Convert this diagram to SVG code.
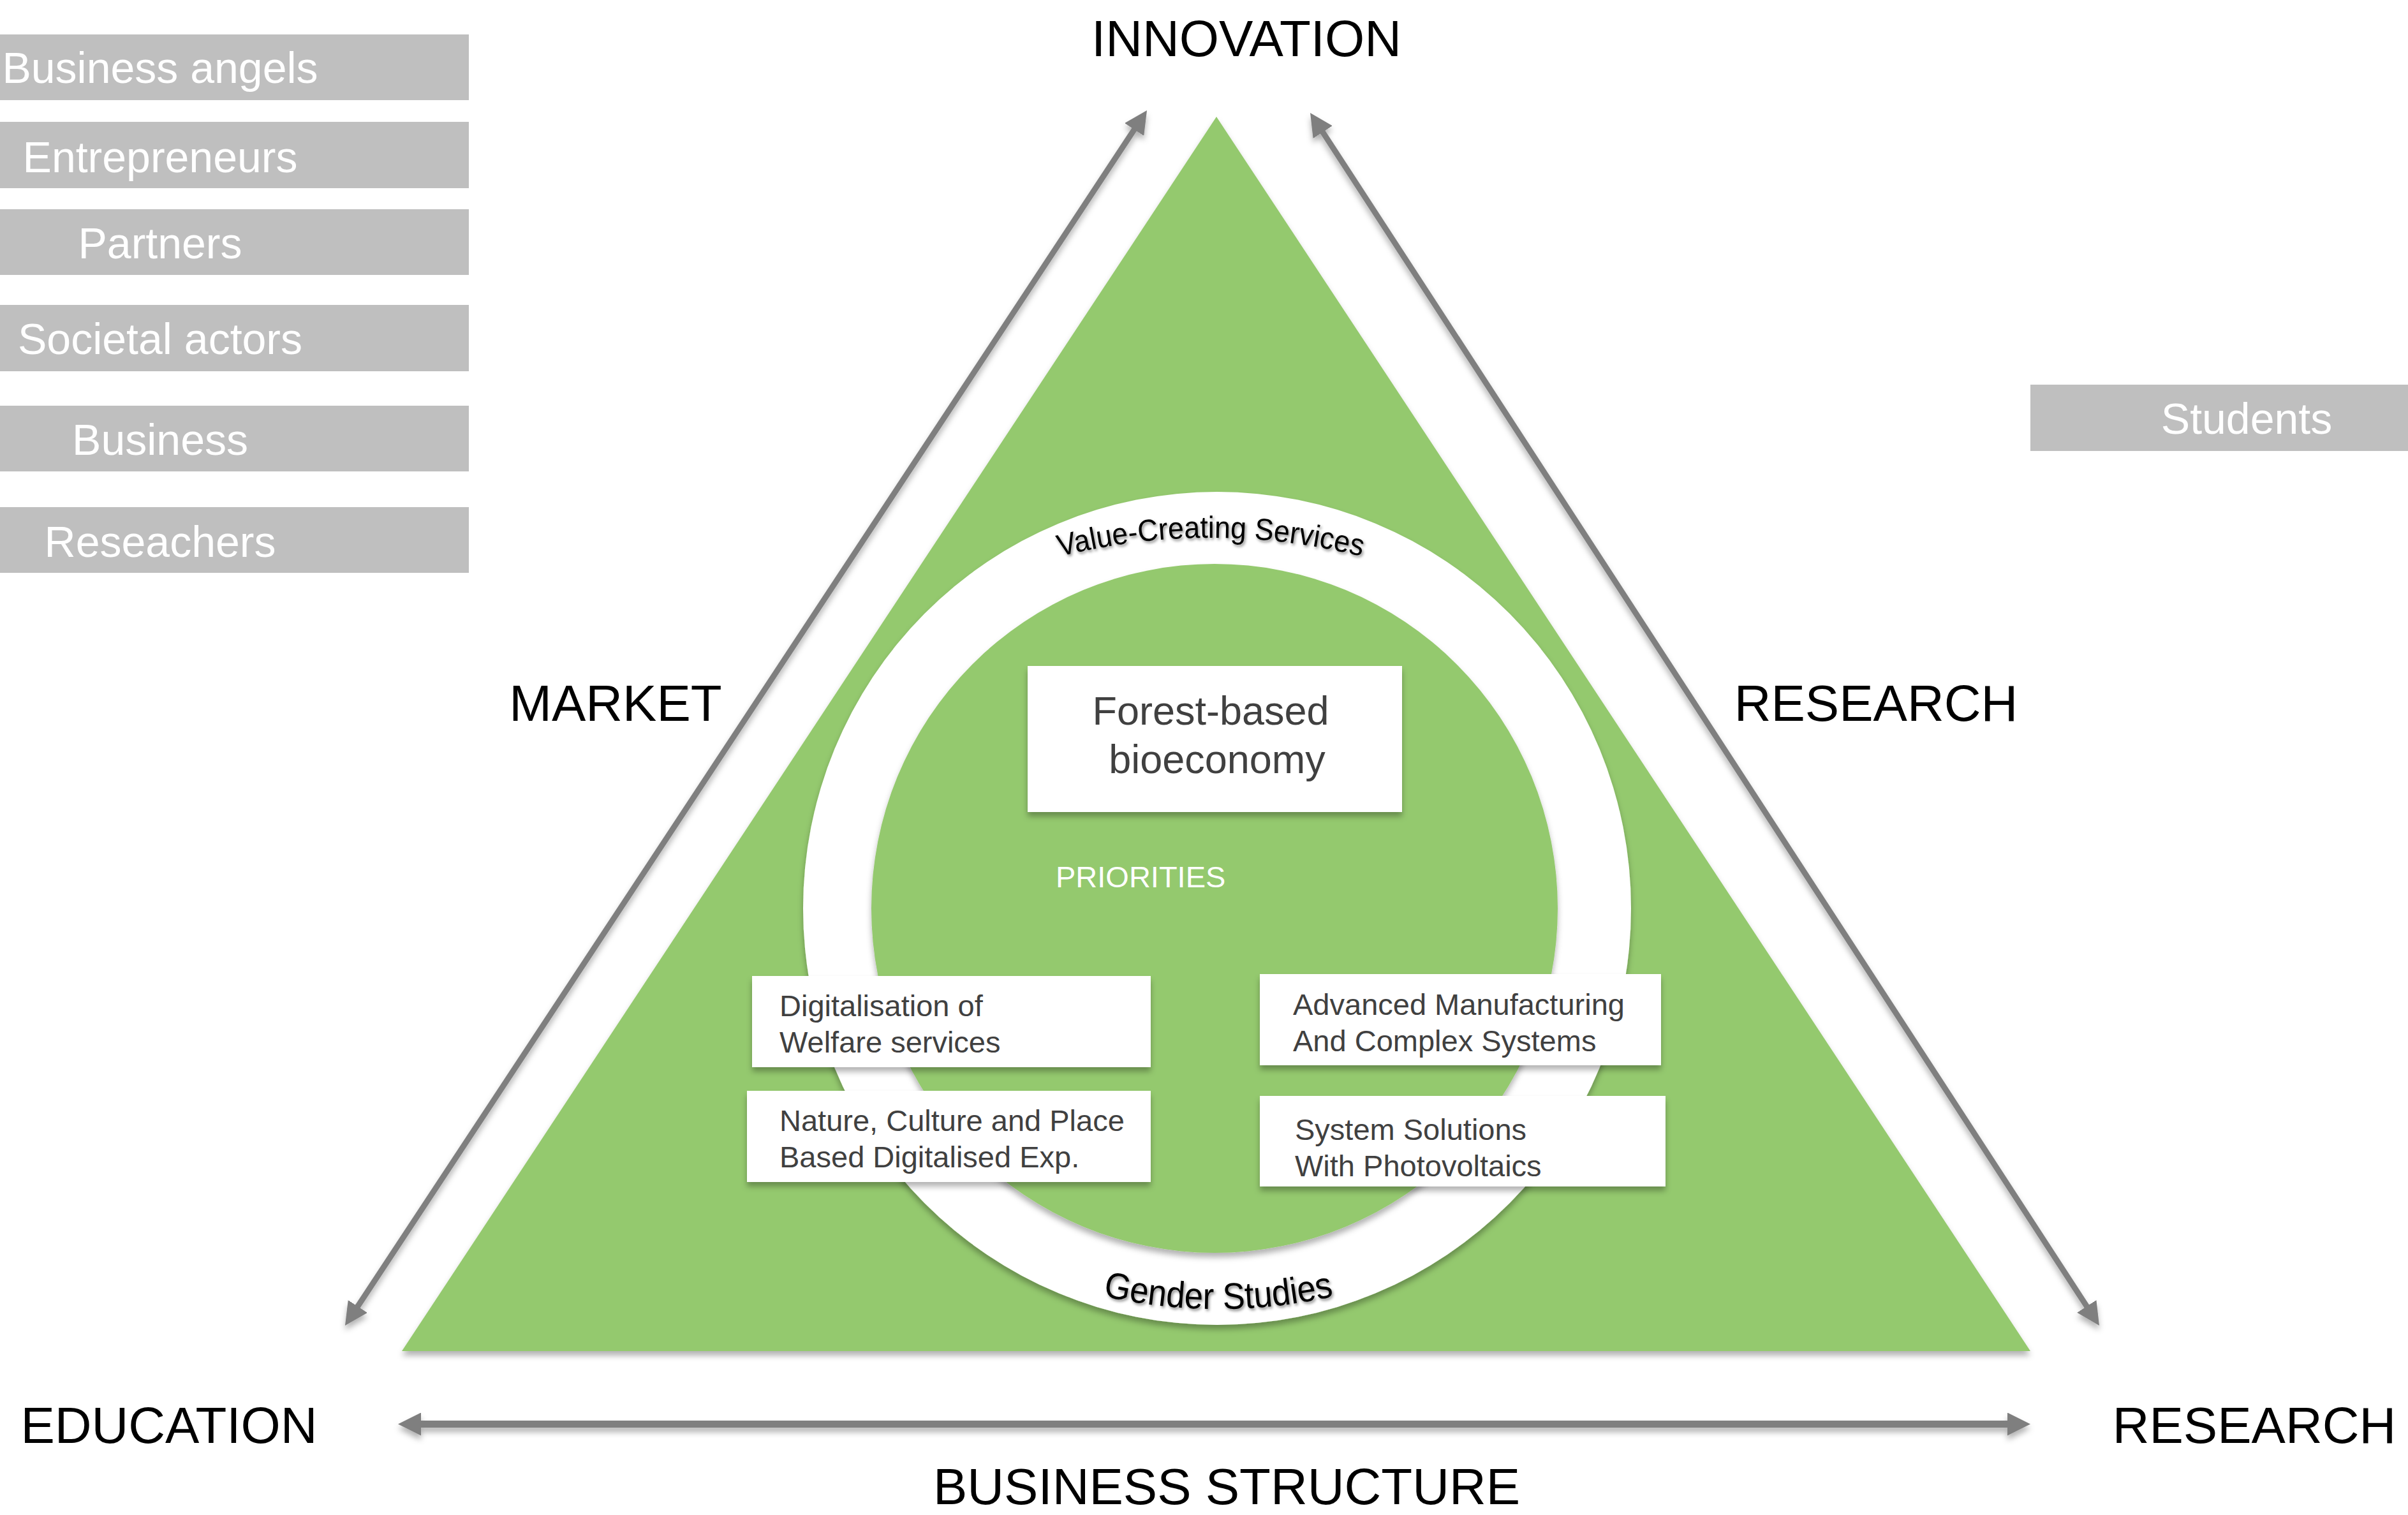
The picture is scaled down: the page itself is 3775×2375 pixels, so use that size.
<svg xmlns="http://www.w3.org/2000/svg" width="3775" height="2375" viewBox="0 0 3775 2375">
<defs>
<style>
.tag rect{fill:#BFBFBF}
.tag text{fill:#FFFFFF;font-family:"Liberation Sans",Arial,sans-serif;font-size:68px;text-anchor:middle}
.lbl{font-family:"Liberation Sans",Arial,sans-serif;font-size:80px;fill:#000000;text-anchor:middle}
.box rect{fill:#FFFFFF}
.box text{font-family:"Liberation Sans",Arial,sans-serif;font-size:47px;fill:#404040}
.arc{font-family:"Liberation Sans",Arial,sans-serif;fill:#000000}
.conn line{stroke:#7F7F7F;fill:none}
</style>
<filter id="sh" filterUnits="userSpaceOnUse" x="0" y="0" width="3775" height="2375">
<feDropShadow dx="0" dy="7" stdDeviation="5" flood-color="#000000" flood-opacity="0.3"/>
</filter>
<filter id="tsh" filterUnits="userSpaceOnUse" x="0" y="0" width="3775" height="2375">
<feDropShadow dx="2" dy="3" stdDeviation="2" flood-color="#000000" flood-opacity="0.45"/>
</filter>
<marker id="ah" markerUnits="userSpaceOnUse" markerWidth="36" markerHeight="36" viewBox="0 0 36 36" refX="6" refY="18" orient="auto-start-reverse">
<path d="M0,0 L36,18 L0,36 z" fill="#7F7F7F"/>
</marker>
<path id="arcTop" d="M1598,890.7 A967,967 0 0 1 2198,890.7"/>
<path id="arcBot" d="M1710,2027.6 A831,831 0 0 0 2110,2027.6"/>
</defs>
<rect x="0" y="0" width="3775" height="2375" fill="#FFFFFF"/>

<g id="triangle">
<polygon points="1907,183 3183,2118 630,2118" fill="#94C96E" filter="url(#sh)"/>
</g>

<g id="connectors" class="conn" filter="url(#sh)">
<line x1="557.5" y1="2053" x2="1781.5" y2="198" stroke-width="9" marker-start="url(#ah)" marker-end="url(#ah)"/>
<line x1="2070.4" y1="202.1" x2="3274.6" y2="2052.9" stroke-width="9" marker-start="url(#ah)" marker-end="url(#ah)"/>
<line x1="654" y1="2232.5" x2="3153" y2="2232.5" stroke-width="11" marker-start="url(#ah)" marker-end="url(#ah)"/>
</g>

<g id="ring">
<ellipse cx="1908" cy="1424" rx="649" ry="653" fill="#FFFFFF" filter="url(#sh)"/>
<ellipse cx="1904" cy="1424" rx="538" ry="540" fill="#94C96E" filter="url(#sh)"/>
<text class="arc" font-size="48" filter="url(#tsh)"><textPath href="#arcTop" startOffset="50%" text-anchor="middle" textLength="478" lengthAdjust="spacingAndGlyphs">Value-Creating Services</textPath></text>
<text class="arc" font-size="58" filter="url(#tsh)"><textPath href="#arcBot" startOffset="50%" text-anchor="middle" textLength="365" lengthAdjust="spacingAndGlyphs">Gender Studies</textPath></text>
</g>

<g id="forest" class="box">
<rect x="1611" y="1044" width="587" height="229" filter="url(#sh)"/>
<text x="1898" y="1136" font-size="63" text-anchor="middle" style="font-size:63px">Forest-based</text>
<text x="1908" y="1212" font-size="63" text-anchor="middle" style="font-size:63px">bioeconomy</text>
</g>

<g id="priorities">
<text x="1655" y="1391" font-family="Liberation Sans, Arial, sans-serif" font-size="47" fill="#FFFFFF">PRIORITIES</text>
</g>

<g id="digitalisation" class="box">
<rect x="1179" y="1530" width="625" height="143" filter="url(#sh)"/>
<text x="1222" y="1593">Digitalisation of</text>
<text x="1222" y="1650">Welfare services</text>
</g>
<g id="nature" class="box">
<rect x="1171" y="1710" width="633" height="143" filter="url(#sh)"/>
<text x="1222" y="1773">Nature, Culture and Place</text>
<text x="1222" y="1830">Based Digitalised Exp.</text>
</g>
<g id="advanced" class="box">
<rect x="1975" y="1527" width="629" height="143" filter="url(#sh)"/>
<text x="2027" y="1591">Advanced Manufacturing</text>
<text x="2027" y="1648">And Complex Systems</text>
</g>
<g id="system" class="box">
<rect x="1975" y="1718" width="636" height="142" filter="url(#sh)"/>
<text x="2030" y="1787">System Solutions</text>
<text x="2030" y="1844">With Photovoltaics</text>
</g>

<g id="actors" class="tag">
<g id="business-angels"><rect x="0" y="54" width="735" height="103"/><text x="251" y="130">Business angels</text></g>
<g id="entrepreneurs"><rect x="0" y="191" width="735" height="104"/><text x="251" y="270">Entrepreneurs</text></g>
<g id="partners"><rect x="0" y="328" width="735" height="103"/><text x="251" y="405">Partners</text></g>
<g id="societal-actors"><rect x="0" y="478" width="735" height="104"/><text x="251" y="555">Societal actors</text></g>
<g id="business"><rect x="0" y="636" width="735" height="103"/><text x="251" y="713">Business</text></g>
<g id="researchers"><rect x="0" y="795" width="735" height="103"/><text x="251" y="873">Reseachers</text></g>
<g id="students"><rect x="3183" y="603" width="592" height="104"/><text x="3522" y="680">Students</text></g>
</g>

<g id="labels">
<text id="innovation" class="lbl" x="1954" y="88">INNOVATION</text>
<text id="market" class="lbl" x="965" y="1130">MARKET</text>
<text id="research-right" class="lbl" x="2941" y="1130">RESEARCH</text>
<text id="education" class="lbl" x="265" y="2262">EDUCATION</text>
<text id="research-bottom" class="lbl" x="3534" y="2262">RESEARCH</text>
<text id="business-structure" class="lbl" x="1923" y="2358">BUSINESS STRUCTURE</text>
</g>
</svg>
